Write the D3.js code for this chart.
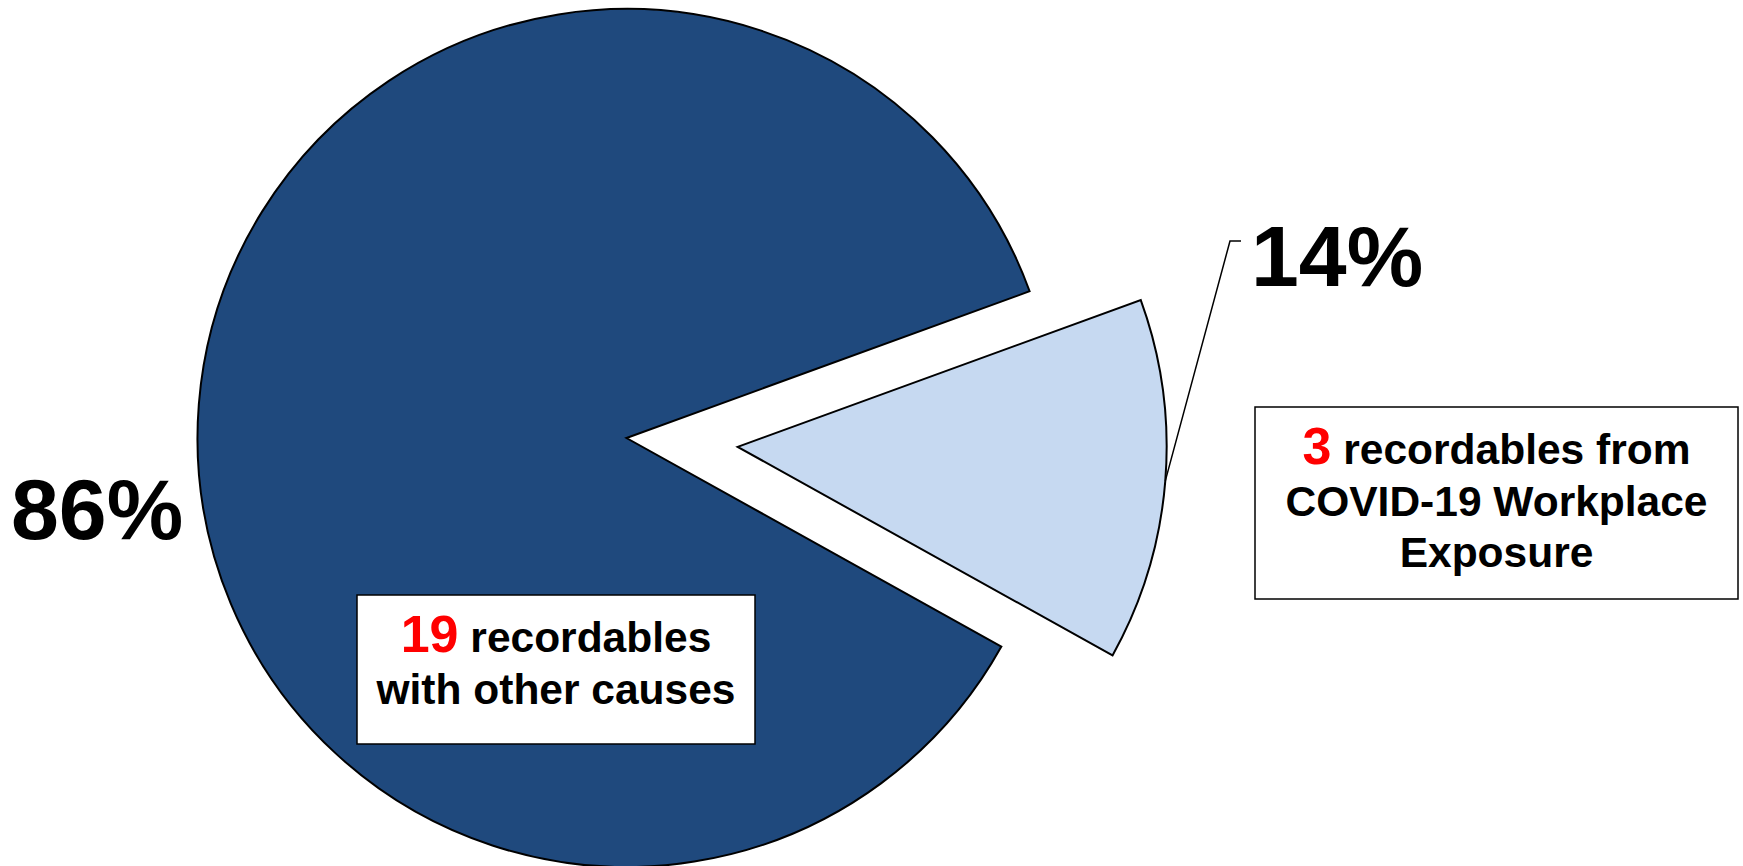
<!DOCTYPE html>
<html>
<head>
<meta charset="utf-8">
<script src="https://cdn.jsdelivr.net/npm/d3@7/dist/d3.min.js"></script>
<style>
  html, body { margin: 0; padding: 0; background: #ffffff; }
  svg { display: block; }
  text { font-family: "Liberation Sans", Arial, sans-serif; font-weight: bold; }
</style>
</head>
<body>
<svg id="chart" width="1743" height="866"></svg>
<script>
// ---- Data ----
const categories = ["COVID-19 Workplace Exposure", "Other causes"];
const values = [3, 19];
const percentLabels = ["14%", "86%"];
const boxNumbers = ["3", "19"];
const boxLines = [
  ["recordables from", "COVID-19 Workplace", "Exposure"],
  ["recordables", "with other causes"]
];
const colors = ["#C6D9F1", "#1F497D"];

// ---- Layout ----
const W = 1743, H = 866;
const cx = 626.5, cy = 438, R = 429;
const explode = [111.5, 0];
const startDeg = 70;

const svg = d3.select("#chart");

const pie = d3.pie()
  .sort(null)
  .value(d => d)
  .startAngle(startDeg * Math.PI / 180)
  .endAngle(startDeg * Math.PI / 180 + 2 * Math.PI);

const arcs = pie(values);
const arc = d3.arc().innerRadius(0).outerRadius(R);

function offset(d, i) {
  const mid = (d.startAngle + d.endAngle) / 2;
  return [Math.sin(mid) * explode[i], -Math.cos(mid) * explode[i]];
}

const g = svg.append("g").attr("transform", `translate(${cx},${cy})`);

g.selectAll("path.slice")
  .data(arcs)
  .join("path")
  .attr("class", "slice")
  .attr("transform", (d, i) => { const o = offset(d, i); return `translate(${o[0]},${o[1]})`; })
  .attr("d", arc)
  .attr("fill", (d, i) => colors[i])
  .attr("stroke", "#000")
  .attr("stroke-width", 2)
  .attr("stroke-linejoin", "miter");

// ---- Leader line for the small slice ----
const sd = arcs[0];
const so = offset(sd, 0);
const mid = (sd.startAngle + sd.endAngle) / 2;
const p0 = [cx + so[0] + Math.sin(mid) * R, cy + so[1] - Math.cos(mid) * R];
svg.append("polyline")
  .attr("points", [p0, [1230, 241], [1241, 241]].map(p => p.join(",")).join(" "))
  .attr("fill", "none")
  .attr("stroke", "#000")
  .attr("stroke-width", 1.5);

// ---- Percent labels ----
svg.append("text")
  .attr("x", 1251).attr("y", 286)
  .attr("font-size", 86)
  .attr("fill", "#000")
  .text(percentLabels[0]);

svg.append("text")
  .attr("x", 11).attr("y", 539)
  .attr("font-size", 86)
  .attr("fill", "#000")
  .text(percentLabels[1]);

// ---- Callout boxes ----
const boxes = [
  { x: 1255, y: 407, w: 483, h: 192, base: 464, lh: 51.5 },
  { x: 357, y: 595, w: 398, h: 149, base: 652, lh: 52.3 }
];

boxes.forEach((b, i) => {
  svg.append("rect")
    .attr("x", b.x).attr("y", b.y)
    .attr("width", b.w).attr("height", b.h)
    .attr("fill", "#fff")
    .attr("stroke", "#000")
    .attr("stroke-width", 1.5);
  const t = svg.append("text")
    .attr("text-anchor", "middle")
    .attr("font-size", 42.5)
    .attr("fill", "#000");
  boxLines[i].forEach((line, j) => {
    const ts = t.append("tspan")
      .attr("x", b.x + b.w / 2)
      .attr("y", b.base + j * b.lh);
    if (j === 0) {
      ts.append("tspan").attr("fill", "#FF0000").attr("font-size", 52).text(boxNumbers[i]);
      ts.append("tspan").text(" " + line);
    } else {
      ts.text(line);
    }
  });
});
</script>
</body>
</html>
